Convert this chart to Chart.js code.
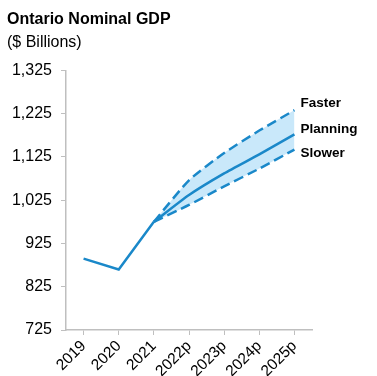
<!DOCTYPE html>
<html lang="en">
<head>
    <meta charset="UTF-8">
    <title>Ontario Nominal GDP</title>
    <script src="https://cdn.jsdelivr.net/npm/chart.js"></script>
    <style>
        html, body {
            margin: 0;
            padding: 0;
            background: #fff;
        }
        .chart-box {
            width: 377px;
            height: 376px;
        }
    </style>
</head>
<body>

<div class="chart-box">
    <canvas id="gdpChart"></canvas>
</div>

<script>
    // Ontario nominal GDP, $ billions
    const years = ['2019', '2020', '2021', '2022p', '2023p', '2024p', '2025p'];
    const actual = [890, 865, 975, null, null, null, null];
    const faster = [null, null, 975, 1071, 1134, 1186, 1233];
    const planning = [null, null, 975, 1037, 1087, 1131, 1177];
    const slower = [null, null, 975, 1014, 1057, 1098, 1142];
    const yTicks = [725, 825, 925, 1025, 1125, 1225, 1325];

    const blue = '#1a88c9';
    const band = '#c9e8fa';
    const axisGrey = '#bfbfbf';
    const font = '"Liberation Sans", Arial, sans-serif';

    // scenario names written next to the end of each projection line
    const endLabels = {
        id: 'endLabels',
        afterDatasetsDraw(chart) {
            const ctx = chart.ctx;
            const shift = { Faster: -7, Planning: -5, Slower: 4 };
            ctx.save();
            ctx.font = 'bold 13.5px ' + font;
            ctx.fillStyle = '#000';
            ctx.textBaseline = 'middle';
            chart.data.datasets.forEach((ds, i) => {
                if (!(ds.label in shift)) return;
                const pts = chart.getDatasetMeta(i).data;
                const last = pts[pts.length - 1];
                ctx.fillText(ds.label, last.x + 6, last.y + shift[ds.label]);
            });
            ctx.restore();
        }
    };

    const ctx = document.getElementById('gdpChart').getContext('2d');
    new Chart(ctx, {
        type: 'line',
        data: {
            labels: years,
            datasets: [
                {
                    label: 'Actual',
                    data: actual,
                    borderColor: blue,
                    borderWidth: 2.5,
                    pointRadius: 0,
                    tension: 0
                },
                {
                    label: 'Faster',
                    data: faster,
                    borderColor: blue,
                    borderWidth: 2.5,
                    borderDash: [10, 5],
                    pointRadius: 0,
                    tension: 0.2,
                    fill: 3,
                    backgroundColor: band
                },
                {
                    label: 'Planning',
                    data: planning,
                    borderColor: blue,
                    borderWidth: 2.5,
                    pointRadius: 0,
                    tension: 0.2
                },
                {
                    label: 'Slower',
                    data: slower,
                    borderColor: blue,
                    borderWidth: 2.5,
                    borderDash: [10, 5],
                    pointRadius: 0,
                    tension: 0.2
                }
            ]
        },
        options: {
            responsive: true,
            maintainAspectRatio: false,
            animation: false,
            layout: {
                padding: { left: 7, right: 65, top: 0, bottom: 0 }
            },
            plugins: {
                legend: { display: false },
                tooltip: { enabled: false },
                filler: { drawTime: 'beforeDatasetsDraw' },
                title: {
                    display: true,
                    text: 'Ontario Nominal GDP',
                    align: 'start',
                    color: '#000',
                    font: { family: font, size: 16, weight: 'bold' },
                    padding: { top: 9.5, bottom: 4 }
                },
                subtitle: {
                    display: true,
                    text: '($ Billions)',
                    align: 'start',
                    color: '#000',
                    font: { family: font, size: 16 },
                    padding: { top: 0, bottom: 18.5 }
                }
            },
            scales: {
                x: {
                    offset: true,
                    afterFit(scale) {
                        scale.height = 46;
                    },
                    grid: {
                        offset: false,
                        drawOnChartArea: false,
                        tickLength: 5,
                        color: axisGrey
                    },
                    border: { color: axisGrey, width: 1.5 },
                    ticks: {
                        minRotation: 45,
                        maxRotation: 45,
                        color: '#000',
                        padding: 2,
                        font: { family: font, size: 15.5 }
                    }
                },
                y: {
                    min: yTicks[0],
                    max: yTicks[yTicks.length - 1],
                    afterBuildTicks(scale) {
                        scale.ticks = yTicks.map(v => ({ value: v }));
                    },
                    afterFit(scale) {
                        scale.width = 59;
                    },
                    grid: {
                        drawOnChartArea: false,
                        tickLength: 5,
                        color: axisGrey
                    },
                    border: { color: axisGrey, width: 1.5 },
                    ticks: {
                        color: '#000',
                        padding: 9,
                        font: { family: font, size: 16 },
                        callback: v => v.toLocaleString('en-US')
                    }
                }
            }
        },
        plugins: [endLabels]
    });
</script>

</body>
</html>
